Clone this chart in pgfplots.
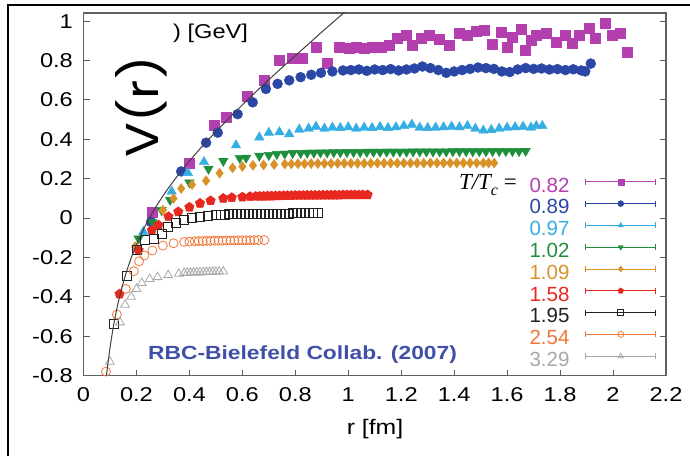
\documentclass[border=0pt]{standalone}
\usepackage{fontspec}
\setmainfont{Liberation Sans}
\newfontfamily\seriffont{Liberation Serif}
\newfontfamily\popfont{Poppins}
\usepackage{graphicx}
\usepackage{pgfplots}
\pgfplotsset{compat=1.18}
\definecolor{cA}{HTML}{B440B0}
\definecolor{cB}{HTML}{2B47A6}
\definecolor{cC}{HTML}{35AEE3}
\definecolor{cD}{HTML}{1E8F3C}
\definecolor{cE}{HTML}{D9922A}
\definecolor{cF}{HTML}{E8281E}
\definecolor{cG}{HTML}{222222}
\definecolor{cH}{HTML}{F0783A}
\definecolor{cI}{HTML}{A8A8A8}
\definecolor{rbc}{HTML}{4050A8}
\begin{document}
\begin{tikzpicture}
\useasboundingbox (0pt,0pt) rectangle (690pt,456pt);
\fill[white] (0pt,0pt) rectangle (690pt,456pt);
\begin{axis}[
  at={(83.5pt,80.5pt)}, anchor=south west,
  scale only axis, width=582.5pt, height=362.5pt,
  xmin=0, xmax=2.2, ymin=-0.8, ymax=1.042,
  clip mode=individual,
  xtick={0,0.2,0.4,0.6,0.8,1,1.2,1.4,1.6,1.8,2,2.2},
  xticklabels={0,0.2,0.4,0.6,0.8,1,1.2,1.4,1.6,1.8,2,2.2},
  ytick={-0.8,-0.6,-0.4,-0.2,0,0.2,0.4,0.6,0.8,1},
  yticklabels={-0.8,-0.6,-0.4,-0.2,0,0.2,0.4,0.6,0.8,1},
  xtick pos=bottom, ytick pos=both,
  tick align=inside, major tick length=6pt,
  tick style={gray!70!black, line width=1pt},
  axis line style={draw=gray!75!black, line width=1.3pt},
  every tick label/.append style={font=\fontsize{20}{20}\selectfont, xscale=1.18},
  yticklabel style={xshift=-5.5pt},
  xticklabel style={yshift=-8.5pt},
  legend plot pos=right,
  legend cell align=left,
  legend style={draw=none, fill=none, at={(0.983,0.546)}, anchor=north east,
    font=\fontsize{20.5}{20.5}\selectfont, inner sep=0pt, outer sep=0pt,
    row sep=7.3pt, column sep=16pt,
    nodes={inner sep=0pt, text height=14.5pt, text depth=0pt}},
  legend image code/.code={
    \draw[#1, mark=none, line width=0.7pt] (0pt,3pt) -- (70pt,3pt);
    \draw[#1, mark=none, line width=0.7pt] (0pt,0pt) -- (0pt,6pt);
    \draw[#1, mark=none, line width=0.7pt] (70pt,0pt) -- (70pt,6pt);
    \path[#1, mark size=3pt] plot coordinates {(35pt,3pt)};
  },
]
% T/Tc = 0.82
\addplot[only marks, color=cA, mark=square*, mark size=5pt,
  error bars/.cd, y dir=both, y fixed=0.022, error bar style={line width=0.6pt}]
coordinates {
(0.26,0.03)(0.40,0.28)(0.494,0.47)(0.538,0.51)(0.62,0.62)(0.683,0.70)(0.74,0.80)
(0.79,0.81)(0.827,0.81)(0.878,0.87)(0.92,0.785)(0.966,0.87)(1.004,0.862)(1.03,0.868)
(1.06,0.865)(1.092,0.87)(1.125,0.868)(1.155,0.879)(1.186,0.916)(1.218,0.93)(1.243,0.879)
(1.274,0.916)(1.306,0.93)(1.343,0.909)(1.381,0.879)(1.419,0.938)(1.45,0.93)(1.482,0.947)
(1.513,0.955)(1.545,0.882)(1.576,0.942)(1.601,0.87)(1.62,0.921)(1.652,0.961)(1.67,0.853)
(1.69,0.905)(1.708,0.93)(1.746,0.938)(1.784,0.896)(1.821,0.93)(1.847,0.887)(1.872,0.93)
(1.909,0.964)(1.934,0.913)(1.972,0.99)(1.997,0.93)(2.028,0.938)(2.053,0.844)};
\addlegendentry{\textcolor{cA}{0.82}}
% 0.89
\addplot[only marks, color=cB, mark=*, mark size=5pt] coordinates {
(0.255,-0.02)(0.369,0.237)(0.463,0.383)(0.507,0.434)(0.582,0.528)(0.639,0.588)(0.689,0.656)
(0.733,0.682)(0.777,0.70)(0.82,0.716)(0.86,0.728)(0.897,0.738)(0.94,0.745)(0.98,0.75)
(1.01,0.752)(1.04,0.755)(1.07,0.748)(1.10,0.755)(1.13,0.752)(1.16,0.757)(1.19,0.750)
(1.22,0.755)(1.25,0.760)(1.28,0.770)(1.31,0.762)(1.34,0.752)(1.37,0.738)(1.40,0.745)
(1.43,0.752)(1.46,0.758)(1.49,0.765)(1.52,0.762)(1.55,0.758)(1.58,0.745)(1.61,0.742)
(1.64,0.755)(1.67,0.762)(1.70,0.758)(1.73,0.760)(1.76,0.755)(1.79,0.757)(1.82,0.752)
(1.85,0.756)(1.88,0.75)(1.895,0.745)(1.916,0.785)};
\addlegendentry{\textcolor{cB}{0.89}}
% 0.97
\addplot[only marks, color=cC, mark=triangle*, mark size=5.5pt] coordinates {
(0.226,-0.07)(0.333,0.135)(0.394,0.23)(0.455,0.285)(0.576,0.37)(0.664,0.41)(0.70,0.434)
(0.74,0.437)(0.777,0.426)(0.815,0.45)(0.85,0.455)(0.878,0.465)(0.91,0.455)(0.94,0.46)
(0.97,0.458)(1.0,0.462)(1.03,0.455)(1.06,0.46)(1.09,0.458)(1.12,0.463)(1.15,0.458)
(1.18,0.462)(1.21,0.468)(1.24,0.475)(1.27,0.46)(1.30,0.458)(1.33,0.46)(1.36,0.462)
(1.39,0.465)(1.42,0.462)(1.45,0.468)(1.48,0.455)(1.51,0.445)(1.54,0.448)(1.57,0.455)
(1.60,0.46)(1.63,0.462)(1.66,0.465)(1.69,0.46)(1.71,0.468)(1.733,0.468)};
\addlegendentry{\textcolor{cC}{0.97}}
% 1.02
\addplot[only marks, color=cD, mark=triangle*, mark size=5.5pt, mark options={rotate=180}] coordinates {
(0.208,-0.104)(0.26,-0.02)(0.295,0.04)(0.327,0.092)(0.40,0.18)(0.472,0.25)(0.528,0.29)
(0.59,0.305)(0.614,0.306)(0.664,0.316)(0.70,0.32)(0.73,0.325)(0.76,0.327)(0.79,0.33)
(0.82,0.330)(0.845,0.331)(0.87,0.332)(0.895,0.333)(0.92,0.333)(0.945,0.334)(0.97,0.334)
(0.995,0.335)(1.02,0.335)(1.045,0.335)(1.07,0.336)(1.095,0.336)(1.12,0.336)(1.145,0.337)
(1.17,0.337)(1.195,0.337)(1.22,0.337)(1.245,0.338)(1.27,0.338)(1.295,0.338)(1.32,0.338)
(1.345,0.338)(1.37,0.338)(1.395,0.339)(1.42,0.339)(1.445,0.339)(1.47,0.339)(1.495,0.339)
(1.52,0.339)(1.545,0.340)(1.57,0.340)(1.595,0.340)(1.62,0.340)(1.645,0.340)(1.67,0.341)};
\addlegendentry{\textcolor{cD}{1.02}}
% 1.09
\addplot[only marks, color=cE, mark=diamond*, mark size=5pt] coordinates {
(0.195,-0.145)(0.30,0.04)(0.34,0.10)(0.369,0.15)(0.41,0.17)(0.463,0.19)(0.514,0.228)
(0.563,0.255)(0.60,0.262)(0.64,0.268)(0.68,0.27)(0.72,0.272)(0.76,0.275)(0.785,0.275)
(0.81,0.276)(0.835,0.276)(0.86,0.277)(0.885,0.277)(0.91,0.277)(0.935,0.277)(0.96,0.278)
(0.985,0.278)(1.01,0.278)(1.035,0.278)(1.06,0.278)(1.085,0.278)(1.11,0.279)(1.135,0.279)
(1.16,0.279)(1.185,0.279)(1.21,0.279)(1.235,0.279)(1.26,0.279)(1.285,0.279)(1.31,0.280)
(1.335,0.280)(1.36,0.280)(1.385,0.280)(1.41,0.280)(1.435,0.280)(1.46,0.280)(1.485,0.280)
(1.51,0.280)(1.53,0.280)(1.551,0.280)};
\addlegendentry{\textcolor{cE}{1.09}}
% 1.58
\addplot[only marks, color=cF, mark=pentagon*, mark size=5pt] coordinates {
(0.136,-0.386)(0.208,-0.164)(0.258,-0.062)(0.283,-0.036)(0.321,0.007)(0.358,0.032)
(0.40,0.055)(0.44,0.075)(0.48,0.088)(0.528,0.10)(0.56,0.104)(0.60,0.107)(0.629,0.109)
(0.65,0.110)(0.665,0.111)(0.68,0.111)(0.695,0.112)(0.71,0.112)(0.725,0.113)(0.74,0.113)
(0.755,0.114)(0.77,0.114)(0.785,0.114)(0.80,0.115)(0.815,0.115)(0.83,0.115)(0.845,0.116)
(0.86,0.116)(0.875,0.116)(0.89,0.116)(0.905,0.117)(0.92,0.117)(0.935,0.117)(0.95,0.117)
(0.965,0.117)(0.98,0.118)(0.995,0.118)(1.01,0.118)(1.025,0.118)(1.04,0.118)(1.055,0.118)
(1.073,0.118)};
\addlegendentry{\textcolor{cF}{1.58}}
% 1.95
\addplot[only marks, color=cG, mark=square, mark size=4.5pt, mark options={line width=0.8pt}] coordinates {
(0.113,-0.54)(0.163,-0.292)(0.201,-0.164)(0.233,-0.113)(0.264,-0.104)(0.295,-0.079)
(0.32,-0.045)(0.35,-0.025)(0.38,-0.01)(0.41,0.0)(0.44,0.008)(0.47,0.012)(0.50,0.016)
(0.52,0.018)(0.535,0.018)(0.55,0.019)(0.565,0.019)(0.58,0.020)(0.595,0.020)(0.61,0.021)
(0.625,0.021)(0.64,0.021)(0.655,0.022)(0.67,0.022)(0.685,0.022)(0.70,0.022)(0.715,0.023)
(0.73,0.023)(0.745,0.023)(0.76,0.023)(0.775,0.023)(0.79,0.024)(0.805,0.024)(0.82,0.024)
(0.835,0.024)(0.85,0.024)(0.865,0.024)(0.884,0.024)};
\addlegendentry{\textcolor{cG}{1.95}}
% 2.54
\addplot[only marks, color=cH, mark=o, mark size=4.5pt, mark options={line width=0.8pt}] coordinates {
(0.085,-0.78)(0.126,-0.49)(0.16,-0.36)(0.19,-0.27)(0.21,-0.22)(0.23,-0.19)(0.26,-0.165)
(0.30,-0.14)(0.34,-0.128)(0.38,-0.121)(0.40,-0.119)(0.42,-0.118)(0.435,-0.117)
(0.45,-0.117)(0.465,-0.116)(0.48,-0.116)(0.495,-0.115)(0.51,-0.115)(0.525,-0.115)
(0.54,-0.114)(0.555,-0.114)(0.57,-0.114)(0.585,-0.113)(0.60,-0.113)(0.615,-0.113)
(0.63,-0.113)(0.645,-0.112)(0.66,-0.112)(0.683,-0.112)};
\addlegendentry{\textcolor{cH}{2.54}}
% 3.29
\addplot[only marks, color=cI, mark=triangle, mark size=5pt, mark options={line width=0.8pt}] coordinates {
(0.10,-0.73)(0.138,-0.53)(0.157,-0.44)(0.18,-0.40)(0.20,-0.36)(0.22,-0.33)(0.25,-0.31)
(0.28,-0.30)(0.32,-0.29)(0.36,-0.283)(0.38,-0.279)(0.392,-0.278)(0.404,-0.277)
(0.416,-0.277)(0.428,-0.276)(0.44,-0.276)(0.452,-0.275)(0.464,-0.274)(0.476,-0.274)
(0.488,-0.273)(0.50,-0.273)(0.512,-0.272)(0.528,-0.272)};
\addlegendentry{\textcolor{cI}{3.29}}
% fit curve
\addplot[forget plot, color=black!75, line width=1pt, smooth] coordinates {
(0.085,-0.824)(0.09,-0.764)(0.10,-0.661)(0.11,-0.574)(0.12,-0.500)(0.13,-0.436)
(0.14,-0.379)(0.16,-0.283)(0.18,-0.203)(0.20,-0.135)(0.22,-0.075)(0.25,0.003)
(0.28,0.071)(0.32,0.151)(0.36,0.223)(0.40,0.290)(0.45,0.367)(0.50,0.439)(0.55,0.508)
(0.60,0.575)(0.65,0.640)(0.70,0.703)(0.75,0.765)(0.80,0.825)(0.85,0.885)(0.90,0.945)
(0.95,1.004)(1.00,1.062)};
\end{axis}
\node[anchor=east, inner sep=0pt] at (517pt,271pt)
  {\seriffont\fontsize{23}{23}\selectfont\itshape T/T\raisebox{-0.3em}{\fontsize{16}{16}\selectfont c}\upshape\ =};
\node[anchor=west, inner sep=0pt, text=rbc, font=\bfseries\fontsize{19}{19}\selectfont] at (148pt,101pt)
  {\scalebox{1.2}[1]{RBC-Bielefeld Collab. (2007)}};
\node[anchor=west, inner sep=0pt, font=\fontsize{20}{20}\selectfont] at (173pt,423pt)
  {\scalebox{1.18}[1]{) [GeV]}};
\node[inner sep=0pt, font=\fontsize{21}{21}\selectfont] at (375pt,27pt)
  {\scalebox{1.18}[1]{r [fm]}};
\node[inner sep=0pt, rotate=90, font=\popfont\fontsize{46}{46}\selectfont] at (141pt,349pt)
  {\scalebox{1.12}[1]{V(r)}};
\draw[line width=2.5pt] (8pt,0pt) -- (8pt,451pt) -- (692pt,451pt);
\end{tikzpicture}
\end{document}
